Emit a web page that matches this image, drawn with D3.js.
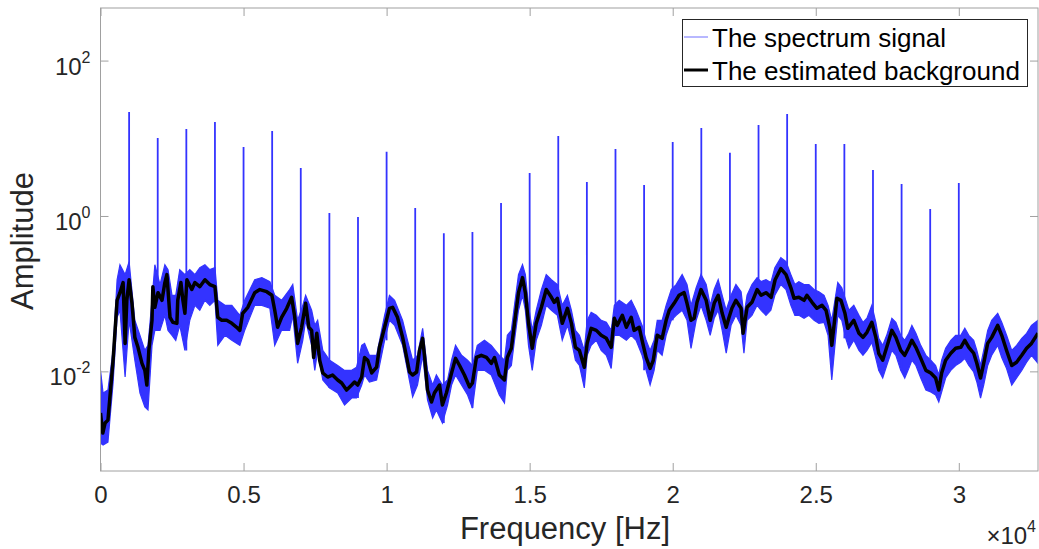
<!DOCTYPE html>
<html>
<head>
<meta charset="utf-8">
<script src="https://cdn.jsdelivr.net/npm/d3@7"></script>
<style>
  body { margin: 0; background: #fff; }
</style>
</head>
<body>
<div id="spectrum"></div>
<script>
// Estimated background (black curve), Hz / amplitude
const bgFreq = [
  0, 80, 160, 260, 330, 440, 580, 680, 790, 860,
  920, 1000, 1100, 1200, 1310, 1450, 1550, 1620, 1690, 1800,
  1830, 1900, 2010, 2150, 2250, 2320, 2430, 2530, 2670, 2700,
  2810, 2880, 2950, 3020, 3190, 3300, 3470, 3650, 3820, 4000,
  4100, 4240, 4410, 4590, 4760, 4870, 4970, 5150, 5390, 5570,
  5810, 5990, 6090, 6190, 6330, 6510, 6680, 6790, 6890, 7030,
  7170, 7280, 7380, 7450, 7560, 7660, 7770, 7940, 8110, 8290,
  8430, 8600, 8780, 8880, 8990, 9130, 9230, 9340, 9480, 9650,
  9750, 9930, 10100, 10210, 10380, 10560, 10700, 10800, 10910, 11050,
  11150, 11260, 11330, 11430, 11570, 11670, 11850, 11950, 12090, 12270,
  12410, 12550, 12720, 12900, 13000, 13140, 13310, 13490, 13660, 13770,
  13940, 14120, 14220, 14360, 14470, 14610, 14750, 14850, 14960, 15090,
  15230, 15410, 15580, 15760, 15860, 15970, 16140, 16320, 16460, 16600,
  16740, 16910, 17010, 17150, 17330, 17500, 17680, 17850, 17960, 18060,
  18240, 18380, 18550, 18650, 18830, 18930, 19070, 19210, 19320, 19460,
  19630, 19770, 19880, 20050, 20220, 20400, 20500, 20640, 20750, 20850,
  20990, 21170, 21310, 21450, 21590, 21730, 21870, 21970, 22070, 22210,
  22390, 22460, 22600, 22770, 22950, 23090, 23260, 23440, 23580, 23780,
  23960, 24130, 24240, 24410, 24590, 24690, 24870, 25040, 25220, 25360,
  25490, 25560, 25670, 25740, 25880, 26020, 26120, 26330, 26510, 26650,
  26790, 26960, 27100, 27200, 27340, 27480, 27660, 27800, 27970, 28110,
  28250, 28360, 28500, 28670, 28850, 29020, 29190, 29300, 29400, 29540,
  29720, 29890, 30070, 30210, 30350, 30520, 30630, 30760, 30870, 31010,
  31150, 31360, 31500, 31670, 31850, 32020, 32200, 32370, 32540, 32768
];
const bgAmp = [
  0.00291, 0.00161, 0.00216, 0.00236, 0.00468, 0.0139, 0.0821, 0.103, 0.139, 0.0229,
  0.0821, 0.151, 0.0752, 0.0274, 0.0204, 0.0127, 0.0103, 0.00667, 0.0186, 0.0454,
  0.123, 0.0667, 0.103, 0.0821, 0.139, 0.176, 0.0496, 0.0428, 0.0415, 0.0821,
  0.139, 0.0821, 0.0559, 0.151, 0.113, 0.139, 0.123, 0.151, 0.131, 0.123,
  0.0496, 0.0454, 0.0454, 0.0415, 0.0369, 0.0337, 0.0559, 0.0667, 0.103, 0.113,
  0.106, 0.0953, 0.0611, 0.0369, 0.0496, 0.0648, 0.0898, 0.0496, 0.0229, 0.0369,
  0.0752, 0.0369, 0.0337, 0.0151, 0.0309, 0.0139, 0.00953, 0.00846, 0.00898, 0.00774,
  0.00708, 0.00575, 0.00667, 0.00730, 0.00667, 0.00846, 0.0151, 0.0139, 0.00953, 0.0113,
  0.0204, 0.0369, 0.0648, 0.0667, 0.0496, 0.0274, 0.0151, 0.00981, 0.00898, 0.00981,
  0.0186, 0.0266, 0.0151, 0.00575, 0.00403, 0.00526, 0.00667, 0.00369, 0.00526, 0.00953,
  0.0147, 0.0119, 0.00898, 0.00629, 0.00708, 0.0151, 0.0161, 0.0151, 0.0127, 0.0151,
  0.00898, 0.00774, 0.0151, 0.0198, 0.0415, 0.103, 0.161, 0.103, 0.0415, 0.0198,
  0.0415, 0.0667, 0.113, 0.0898, 0.0774, 0.0872, 0.0415, 0.0648, 0.0415, 0.0204,
  0.0186, 0.0113, 0.0229, 0.0358, 0.0337, 0.0291, 0.0266, 0.0204, 0.0482, 0.0391,
  0.0526, 0.0369, 0.0496, 0.0337, 0.0369, 0.0251, 0.0151, 0.0109, 0.0139, 0.0291,
  0.0266, 0.0454, 0.0611, 0.0752, 0.0953, 0.103, 0.0752, 0.0454, 0.0482, 0.0774,
  0.113, 0.0821, 0.0454, 0.0752, 0.0953, 0.0559, 0.0369, 0.0496, 0.0648, 0.0821,
  0.0648, 0.0309, 0.0667, 0.0774, 0.113, 0.0953, 0.103, 0.0898, 0.151, 0.210,
  0.176, 0.119, 0.0872, 0.0898, 0.0821, 0.0953, 0.0774, 0.0648, 0.0708, 0.0611,
  0.0369, 0.0216, 0.0496, 0.0872, 0.0821, 0.0559, 0.0358, 0.0454, 0.0309, 0.0274,
  0.0318, 0.0428, 0.0274, 0.0171, 0.0139, 0.0204, 0.0337, 0.0274, 0.0186, 0.0161,
  0.0204, 0.0251, 0.0204, 0.0147, 0.0103, 0.00953, 0.00821, 0.00575, 0.00953, 0.0139,
  0.0171, 0.0198, 0.0204, 0.0251, 0.0204, 0.0171, 0.0127, 0.00821, 0.0127, 0.0229,
  0.0274, 0.0391, 0.0291, 0.0186, 0.0119, 0.0131, 0.0161, 0.0198, 0.0229, 0.0309
];

// Spectrum signal noise band (blue), lower and upper envelope
const bandFreq = [
  0, 90, 260, 440, 580, 680, 860, 1000, 1200, 1380,
  1550, 1660, 1800, 1900, 2080, 2250, 2360, 2500, 2630, 2770,
  2950, 3120, 3300, 3470, 3650, 3820, 4000, 4100, 4350, 4590,
  4870, 5040, 5390, 5640, 5920, 6090, 6330, 6610, 6720, 6890,
  7070, 7170, 7380, 7490, 7590, 7770, 8010, 8290, 8530, 8780,
  8950, 9130, 9230, 9400, 9650, 9930, 10100, 10280, 10560, 10730,
  10910, 11080, 11260, 11430, 11610, 11740, 11950, 12130, 12270, 12410,
  12620, 12830, 13000, 13170, 13420, 13660, 13940, 14120, 14220, 14360,
  14470, 14610, 14750, 14850, 14960, 15090, 15230, 15410, 15580, 15760,
  15970, 16140, 16320, 16460, 16600, 16740, 16910, 17010, 17150, 17330,
  17500, 17680, 17850, 17960, 18130, 18380, 18550, 18720, 18930, 19070,
  19210, 19350, 19460, 19630, 19770, 19950, 20120, 20330, 20500, 20640,
  20820, 20990, 21170, 21310, 21450, 21590, 21730, 21870, 22040, 22210,
  22390, 22490, 22600, 22770, 22950, 23090, 23260, 23430, 23570, 23780,
  23960, 24130, 24270, 24410, 24590, 24760, 24940, 25110, 25290, 25430,
  25560, 25670, 25770, 25910, 26050, 26160, 26330, 26510, 26650, 26790,
  26960, 27100, 27200, 27340, 27480, 27660, 27800, 27970, 28110, 28250,
  28360, 28500, 28670, 28850, 29020, 29190, 29300, 29400, 29540, 29720,
  29890, 30070, 30210, 30350, 30520, 30630, 30760, 30870, 31010, 31150,
  31360, 31500, 31670, 31850, 32020, 32200, 32370, 32540, 32768
];
const bandHigh = [
  0.0103, 0.00526, 0.00575, 0.0186, 0.151, 0.236, 0.176, 0.258, 0.0454, 0.0291,
  0.0186, 0.0216, 0.0821, 0.236, 0.131, 0.236, 0.204, 0.0953, 0.0953, 0.204,
  0.176, 0.204, 0.176, 0.216, 0.236, 0.204, 0.216, 0.0821, 0.0708, 0.0708,
  0.0526, 0.0821, 0.151, 0.161, 0.143, 0.0953, 0.0821, 0.113, 0.131, 0.0454,
  0.0708, 0.0953, 0.0611, 0.0391, 0.0454, 0.0186, 0.0139, 0.0119, 0.0103, 0.0103,
  0.0113, 0.0216, 0.0229, 0.0161, 0.0161, 0.0526, 0.0953, 0.0821, 0.0454, 0.0251,
  0.0139, 0.0161, 0.0358, 0.0103, 0.00667, 0.00898, 0.00667, 0.00774, 0.0139, 0.0216,
  0.0161, 0.0139, 0.0119, 0.0216, 0.0251, 0.0216, 0.0161, 0.0139, 0.0291, 0.0337,
  0.0708, 0.176, 0.236, 0.176, 0.0708, 0.0337, 0.0611, 0.113, 0.176, 0.151,
  0.131, 0.0708, 0.0953, 0.0611, 0.0337, 0.0291, 0.0186, 0.0454, 0.0575, 0.0526,
  0.0454, 0.0428, 0.0337, 0.0708, 0.0821, 0.0708, 0.0821, 0.0611, 0.0391, 0.0251,
  0.0186, 0.0251, 0.0454, 0.0454, 0.0708, 0.113, 0.131, 0.176, 0.131, 0.0708,
  0.119, 0.176, 0.131, 0.0708, 0.113, 0.151, 0.0953, 0.0611, 0.0953, 0.131,
  0.106, 0.0526, 0.0953, 0.131, 0.161, 0.143, 0.151, 0.139, 0.216, 0.291,
  0.258, 0.176, 0.131, 0.143, 0.131, 0.131, 0.113, 0.106, 0.0953, 0.0708,
  0.0454, 0.0821, 0.139, 0.119, 0.0821, 0.0611, 0.0708, 0.0526, 0.0428, 0.0482,
  0.0708, 0.0428, 0.0266, 0.0216, 0.0291, 0.0482, 0.0428, 0.0291, 0.0251, 0.0309,
  0.0391, 0.0309, 0.0216, 0.0161, 0.0139, 0.0119, 0.00898, 0.0139, 0.0198, 0.0251,
  0.0291, 0.0291, 0.0358, 0.0291, 0.0251, 0.0186, 0.0119, 0.0186, 0.0337, 0.0454,
  0.0559, 0.0428, 0.0291, 0.0186, 0.0216, 0.0266, 0.0309, 0.0391, 0.0454
];
const bandLow = [
  0.00119, 0.00113, 0.00123, 0.00708, 0.0496, 0.0611, 0.00846, 0.0454, 0.0139, 0.00526,
  0.00348, 0.00318, 0.0216, 0.0337, 0.0337, 0.0526, 0.0337, 0.0291, 0.0251, 0.0391,
  0.0186, 0.0454, 0.0708, 0.0611, 0.0821, 0.0708, 0.0821, 0.0216, 0.0291, 0.0251,
  0.0216, 0.0337, 0.0708, 0.0708, 0.0648, 0.0216, 0.0337, 0.0337, 0.0526, 0.0127,
  0.0251, 0.0454, 0.0216, 0.0103, 0.0186, 0.00774, 0.00611, 0.00526, 0.00369, 0.00454,
  0.00454, 0.00667, 0.00898, 0.00730, 0.00774, 0.0251, 0.0454, 0.0391, 0.0216, 0.0103,
  0.00468, 0.00667, 0.0161, 0.00428, 0.00251, 0.00318, 0.00216, 0.00369, 0.00667, 0.00898,
  0.00667, 0.00496, 0.00337, 0.0103, 0.0103, 0.00898, 0.00496, 0.00391, 0.0103, 0.0119,
  0.0251, 0.0611, 0.0953, 0.0611, 0.0216, 0.0103, 0.0251, 0.0391, 0.0708, 0.0611,
  0.0526, 0.0251, 0.0391, 0.0251, 0.0139, 0.0119, 0.00611, 0.0161, 0.0216, 0.0251,
  0.0186, 0.0161, 0.0109, 0.0291, 0.0291, 0.0251, 0.0291, 0.0251, 0.0161, 0.0103,
  0.00667, 0.0103, 0.0186, 0.0161, 0.0291, 0.0454, 0.0526, 0.0611, 0.0454, 0.0198,
  0.0454, 0.0708, 0.0454, 0.0291, 0.0482, 0.0611, 0.0337, 0.0171, 0.0391, 0.0526,
  0.0391, 0.0171, 0.0454, 0.0526, 0.0708, 0.0611, 0.0526, 0.0611, 0.0953, 0.131,
  0.113, 0.0708, 0.0526, 0.0526, 0.0482, 0.0526, 0.0454, 0.0415, 0.0428, 0.0291,
  0.00774, 0.0216, 0.0526, 0.0454, 0.0266, 0.0198, 0.0251, 0.0186, 0.0161, 0.0186,
  0.0236, 0.0147, 0.0103, 0.00821, 0.0119, 0.0186, 0.0161, 0.0103, 0.00821, 0.0109,
  0.0139, 0.0119, 0.00821, 0.00575, 0.00542, 0.00496, 0.00403, 0.00542, 0.00821, 0.0103,
  0.0119, 0.0131, 0.0147, 0.0119, 0.00981, 0.00730, 0.00454, 0.00667, 0.0119, 0.0161,
  0.0216, 0.0151, 0.0109, 0.00667, 0.00821, 0.0103, 0.0131, 0.0161, 0.0127
];

// Harmonic peaks of the spectrum signal
const peakFreq = [
  1000, 2000, 3000, 4000, 5000, 6000, 7000, 8000, 9000, 10000,
  11000, 12000, 13000, 14000, 15000, 16000, 17000, 18000, 19000, 20000,
  21000, 22000, 23000, 24000, 25000, 26000, 27000, 28000, 29000, 30000
];
const peakAmp = [
  21.8, 10.1, 13.2, 16.2, 7.7, 12.4, 4.15, 1.09, 0.97, 6.7,
  1.27, 0.60, 0.62, 1.47, 3.58, 10.7, 2.74, 7.3, 2.5, 8.96,
  13.6, 6.5, 14.8, 20.5, 8.45, 8.45, 3.9, 2.58, 1.23, 2.66
];

// Axis ticks
const xTicks = [0, 5000, 10000, 15000, 20000, 25000, 30000];
const xTickLabels = ["0", "0.5", "1", "1.5", "2", "2.5", "3"];
const yTicks = [1e-2, 1e0, 1e2];
const yTickExp = ["-2", "0", "2"];

const legendLabels = ["The spectrum signal", "The estimated background"];

function drawSpectrum() {
  const width = 1039;
  const height = 549;
  const left = 100.5, right = 1038, top = 8, bottom = 471;
  const fontFamily = "'Liberation Sans', Arial, Helvetica, sans-serif";
  const axisColor = "#a0a0a0";
  const textColor = "#262626";
  const signalColor = "#3333ff";
  const tickLen = 8;

  const svg = d3.select("#spectrum")
    .append("svg")
    .attr("width", width)
    .attr("height", height)
    .style("font-family", fontFamily);

  const x = d3.scaleLinear().domain([0, 32768]).range([left, right]);
  const y = d3.scaleLog().domain([5.22e-4, 475]).range([bottom, top]);

  svg.append("clipPath").attr("id", "plot-clip")
    .append("rect")
    .attr("x", left).attr("y", top)
    .attr("width", right - left).attr("height", bottom - top);

  const plot = svg.append("g").attr("clip-path", "url(#plot-clip)");

  const n = Math.min(bandFreq.length, bandLow.length, bandHigh.length);
  const band = d3.range(n).map(i => ({ f: bandFreq[i], lo: bandLow[i], hi: bandHigh[i] }));
  const m = Math.min(bgFreq.length, bgAmp.length);
  const bg = d3.range(m).map(i => ({ f: bgFreq[i], a: bgAmp[i] }));

  // Signal noise band
  plot.append("path")
    .datum(band)
    .attr("fill", signalColor)
    .attr("stroke", signalColor)
    .attr("stroke-width", 1.2)
    .attr("d", d3.area().x(d => x(d.f)).y0(d => y(d.lo)).y1(d => y(d.hi)));

  // Harmonic spikes
  const bis = d3.bisector(d => d.f);
  plot.append("g")
    .selectAll("line")
    .data(peakFreq.map((f, i) => ({ f, a: peakAmp[i] })))
    .join("line")
    .attr("x1", d => x(d.f))
    .attr("x2", d => x(d.f))
    .attr("y1", d => y(d.a))
    .attr("y2", d => y(band[bis.center(band, d.f)].lo))
    .attr("stroke", signalColor)
    .attr("stroke-width", 1.8);

  // Background estimate
  plot.append("path")
    .datum(bg)
    .attr("fill", "none")
    .attr("stroke", "#000")
    .attr("stroke-width", 3.5)
    .attr("stroke-linejoin", "round")
    .attr("d", d3.line().x(d => x(d.f)).y(d => y(d.a)));

  // Axes (inward ticks on all four sides)
  const styleAxis = g => {
    g.select(".domain").remove();
    g.selectAll(".tick line").attr("stroke", axisColor);
    g.selectAll(".tick text").attr("fill", textColor).attr("font-size", 24).attr("font-family", fontFamily);
  };

  svg.append("g")
    .attr("transform", `translate(0,${bottom})`)
    .call(d3.axisBottom(x).tickValues(xTicks).tickSize(-tickLen).tickPadding(15)
      .tickFormat((d, i) => xTickLabels[i]))
    .call(styleAxis);

  svg.append("g")
    .attr("transform", `translate(0,${top})`)
    .call(d3.axisTop(x).tickValues(xTicks).tickSize(-tickLen).tickFormat(""))
    .call(styleAxis);

  svg.append("g")
    .attr("transform", `translate(${left},0)`)
    .call(d3.axisLeft(y).tickValues(yTicks).tickSize(-tickLen).tickFormat(""))
    .call(styleAxis);

  svg.append("g")
    .attr("transform", `translate(${right},0)`)
    .call(d3.axisRight(y).tickValues(yTicks).tickSize(-tickLen).tickFormat(""))
    .call(styleAxis);

  // Log tick labels 10^n
  const yLab = svg.append("g")
    .selectAll("text")
    .data(yTicks)
    .join("text")
    .attr("x", left - 10)
    .attr("y", d => y(d) + 14)
    .attr("text-anchor", "end")
    .attr("fill", textColor)
    .attr("font-size", 24);
  yLab.append("tspan").text("10");
  yLab.append("tspan")
    .attr("dy", -12)
    .attr("font-size", 16)
    .text((d, i) => yTickExp[i]);

  // Plot box
  svg.append("rect")
    .attr("x", left).attr("y", top)
    .attr("width", right - left).attr("height", bottom - top)
    .attr("fill", "none")
    .attr("stroke", axisColor)
    .attr("stroke-width", 1);

  // Axis titles
  svg.append("text")
    .attr("x", 565)
    .attr("y", 539)
    .attr("text-anchor", "middle")
    .attr("fill", textColor)
    .attr("font-size", 31)
    .text("Frequency [Hz]");

  svg.append("text")
    .attr("transform", "translate(33,241) rotate(-90)")
    .attr("text-anchor", "middle")
    .attr("fill", textColor)
    .attr("font-size", 31)
    .text("Amplitude");

  const expLabel = svg.append("text")
    .attr("x", 1036)
    .attr("y", 544)
    .attr("text-anchor", "end")
    .attr("fill", textColor)
    .attr("font-size", 24);
  expLabel.append("tspan").text("\u00d710");
  expLabel.append("tspan").attr("dy", -12).attr("font-size", 16).text("4");

  // Legend
  const legend = svg.append("g");
  legend.append("rect")
    .attr("x", 682.5).attr("y", 19.5)
    .attr("width", 345).attr("height", 67)
    .attr("fill", "#fff")
    .attr("stroke", "#262626")
    .attr("stroke-width", 1);

  const legendStyles = [
    { color: signalColor, width: 1, opacity: 0.7, y: 37 },
    { color: "#000", width: 3, opacity: 1, y: 70 }
  ];

  legend.selectAll("line")
    .data(legendStyles)
    .join("line")
    .attr("x1", 684).attr("x2", 708)
    .attr("y1", d => d.y).attr("y2", d => d.y)
    .attr("stroke", d => d.color)
    .attr("stroke-width", d => d.width)
    .attr("stroke-opacity", d => d.opacity);

  legend.selectAll("text")
    .data(legendLabels)
    .join("text")
    .attr("x", 712)
    .attr("y", (d, i) => legendStyles[i].y + 10)
    .attr("fill", "#000")
    .attr("font-size", 26)
    .text(d => d);
}

drawSpectrum();
</script>
</body>
</html>
